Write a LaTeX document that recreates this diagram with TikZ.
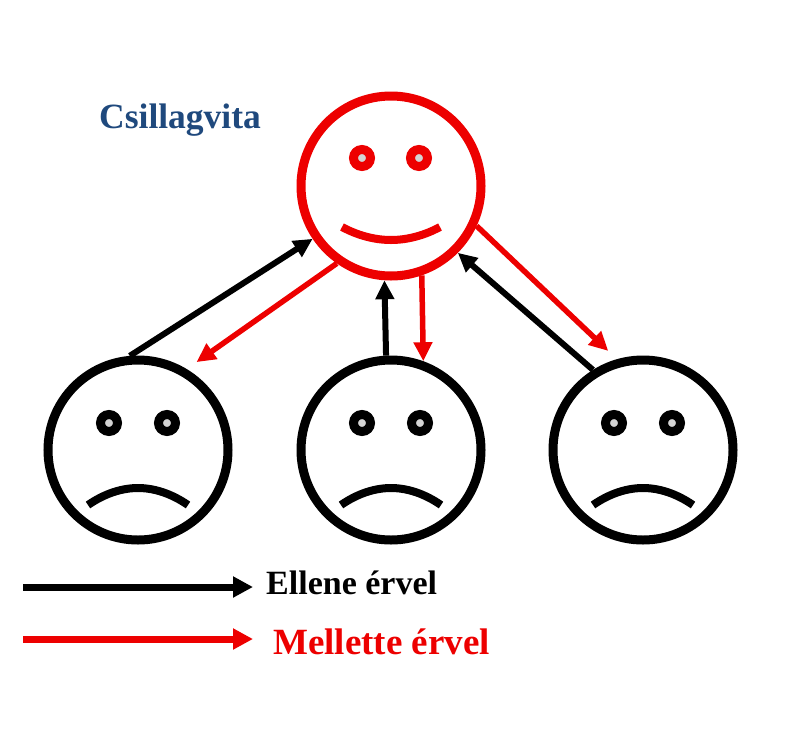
\documentclass[tikz,border=0pt]{standalone}
\usepackage{fontspec}
\setmainfont{Liberation Serif}
\usetikzlibrary{arrows.meta}
\definecolor{myred}{RGB}{237,0,0}
\definecolor{myblue}{RGB}{31,73,125}
\definecolor{eyegray}{RGB}{212,212,212}
\begin{document}
\begin{tikzpicture}[x=1pt,y=-1pt,
  face/.style={circle,draw,line width=9pt,minimum size=180pt,inner sep=0pt,outer sep=4.5pt},
  eye/.style={line width=9pt,fill=eyegray},
  mouth/.style={line width=8pt},
  conn/.style={line width=6pt,-{Triangle[length=19pt,width=18pt]}},
  rconn/.style={line width=5.5pt,draw=myred,-{Triangle[length=19pt,width=18pt]}},
  legarrow/.style={line width=7pt,-{Triangle[length=20pt,width=20pt]}},
  lbl/.style={anchor=base west,inner sep=0pt,font=\bfseries}
]
\useasboundingbox (0,0) rectangle (798,753);
\fill[white] (0,0) rectangle (798,753);

% faces
\node[face,draw=myred] (top) at (391,186) {};
\node[face] (f1) at (138,450) {};
\node[face] (f2) at (391,450) {};
\node[face] (f3) at (643,450) {};

% top face details
\begin{scope}[shift={(top.center)}]
  \draw[eye,draw=myred] (-29,-28) circle[radius=8.5pt];
  \draw[eye,draw=myred] (28,-28) circle[radius=8.5pt];
  \draw[mouth,draw=myred] (-49,41) parabola bend (0,54) (49,41);
\end{scope}

% sad faces details
\foreach \f in {f1,f2,f3}{
  \begin{scope}[shift={(\f.center)}]
    \draw[eye] (-29,-27) circle[radius=8.5pt];
    \draw[eye] (29,-27) circle[radius=8.5pt];
    \draw[mouth] (-50,55) parabola bend (0,38) (50,55);
  \end{scope}
}

% connectors
\draw[conn] (f1.95) -- (top.214.4);
\draw[rconn,shorten >=12pt] (top.235.6) -- (f1.59.3);
\draw[conn] (f2.93.7) -- (top.266.3);
\draw[rconn] (top.289.2) -- (f2.70.8);
\draw[conn] (f3.122.9) -- (top.315.4);
\draw[rconn,shorten >=12pt] (top.335.3) -- (f3.106.4);

% title
\node[lbl,text=myblue,font=\bfseries\fontsize{35.5}{42}\selectfont] (title) at (99,128) {Csillagvita};

% legend
\coordinate (lb1) at (23,587);
\coordinate (lb2) at (253,587);
\coordinate (lr1) at (23,639);
\coordinate (lr2) at (253,639);
\draw[legarrow] (lb1) -- (lb2);
\draw[legarrow,myred] (lr1) -- (lr2);
\node[lbl,font=\bfseries\fontsize{34}{40}\selectfont] (lt1) at (266,594) {Ellene érvel};
\node[lbl,text=myred,font=\bfseries\fontsize{37}{44}\selectfont] (lt2) at (273,654) {Mellette érvel};
\end{tikzpicture}
\end{document}
